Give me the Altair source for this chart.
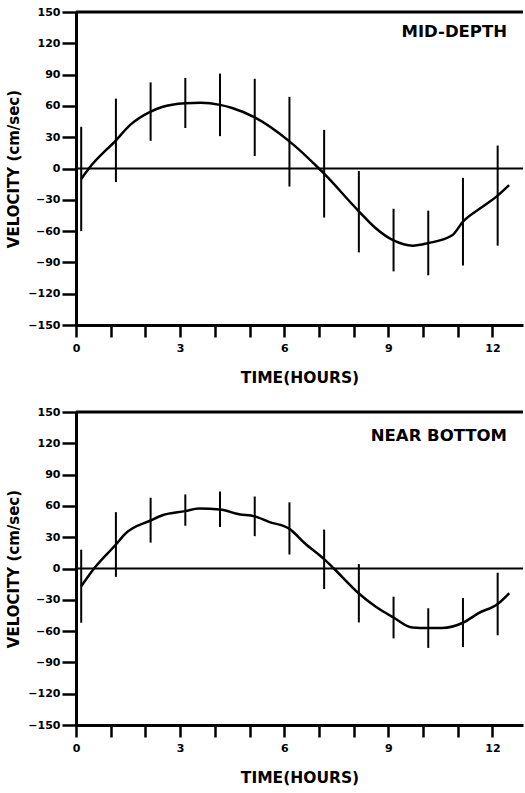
import altair as alt
import pandas as pd

# Observation times (hours) where velocity ranges were measured
obs_hours = [0.15, 1.15, 2.15, 3.15, 4.15, 5.15, 6.15, 7.15, 8.15, 9.15, 10.15, 11.15, 12.15]

# Mid-depth: mean velocity and half-range at each observation (cm/sec)
mid_mean = [-10, 27, 54.5, 62.8, 61, 49, 25.7, -5, -41.4, -68.6, -71.4, -51, -26]
mid_half = [50, 40, 28, 24, 30, 37, 43, 42, 39, 30, 31, 42, 48]

# Near bottom: mean velocity and half-range at each observation (cm/sec)
bot_mean = [-17, 23, 46.3, 56, 56.8, 50, 38.4, 8.8, -23.7, -47, -57.1, -51.8, -34]
bot_half = [35, 31, 21.5, 15, 17, 19, 25, 28.5, 28, 20, 19, 23.5, 30]

# Smoothed curve through the observations
mid_curve_t = [0.15, 0.37, 1.15, 1.57, 2.15, 2.48, 3.15, 3.6, 4.15, 4.5, 5.15, 6.15, 7.0, 7.15,
               8.15, 8.63, 9.15, 9.7, 10.15, 10.84, 11.15, 11.7, 12.15, 12.48]
mid_curve_v = [-10, 0, 27, 42, 54.5, 59, 62.5, 63, 61, 58, 49, 26, 0, -5,
               -41, -57, -69, -74, -71.5, -64, -51, -37, -26, -16]

bot_curve_t = [0.15, 0.52, 1.15, 1.43, 2.15, 2.49, 3.15, 3.54, 4.15, 4.7, 5.15, 5.56, 6.15, 6.6,
               7.15, 7.43, 8.15, 8.63, 9.15, 9.69, 10.15, 10.55, 11.15, 11.6, 12.15, 12.48]
bot_curve_v = [-17, 0, 23, 33.6, 46, 51, 55, 57.5, 56.5, 52, 50, 44.7, 38, 24,
               9, 0, -24, -36.5, -47, -56.5, -57, -57, -52, -42.8, -34, -23.7]

# Axis tick positions
x_ticks = list(range(0, 13))
y_ticks = list(range(-150, 151, 30))

FONT = "DejaVu Sans"
X_MAX = 12.88


def panel(label, mean, half, ct, cv, label_y):
    bars = pd.DataFrame({
        "t": obs_hours,
        "lo": [m - h for m, h in zip(mean, half)],
        "hi": [m + h for m, h in zip(mean, half)],
    })
    curve = pd.DataFrame({"t": ct, "v": cv})

    x_scale = alt.Scale(domain=[0, X_MAX], nice=False, zero=False)
    y_scale = alt.Scale(domain=[-150, 150], nice=False)

    x_axis = alt.Axis(
        title="TIME(HOURS)", values=x_ticks, tickCount=len(x_ticks),
        labelExpr="datum.value % 3 == 0 ? datum.value : ''",
        labelOverlap=False,
        tickSize=12, tickWidth=2.5, tickColor="black",
        domainWidth=3, domainColor="black", grid=False,
        labelFont=FONT, labelFontSize=11, labelFontWeight="bold", labelColor="black",
        labelPadding=5, labelFlush=False,
        titleFont=FONT, titleFontSize=15.5, titleFontWeight="bold", titleColor="black",
        titlePadding=17,
    )
    y_axis = alt.Axis(
        title="VELOCITY (cm/sec)", values=y_ticks, tickCount=len(y_ticks),
        labelOverlap=False,
        tickSize=14, tickWidth=2.5, tickColor="black",
        domainWidth=3, domainColor="black", grid=False,
        labelFont=FONT, labelFontSize=11, labelFontWeight="bold", labelColor="black",
        labelPadding=2,
        titleFont=FONT, titleFontSize=15, titleFontWeight="bold", titleColor="black",
        titlePadding=6,
    )

    # Curve layer first so its axis definitions drive the shared axes
    line = alt.Chart(curve).mark_line(color="black", strokeWidth=2.5, interpolate="monotone").encode(
        x=alt.X("t:Q", scale=x_scale, axis=x_axis),
        y=alt.Y("v:Q", scale=y_scale, axis=y_axis),
    )
    err = alt.Chart(bars).mark_rule(color="black", strokeWidth=2).encode(
        x="t:Q", y="lo:Q", y2="hi:Q"
    )
    frame = pd.DataFrame({"v": [0, 150], "w": [2, 3]})
    rules = alt.Chart(frame).mark_rule(color="black").encode(
        y="v:Q", strokeWidth=alt.StrokeWidth("w:Q", scale=None, legend=None)
    )
    txt = alt.Chart(pd.DataFrame({"t": [12.42], "v": [label_y], "s": [label]})).mark_text(
        align="right", baseline="middle", font=FONT, fontSize=16.5, fontWeight="bold",
        color="black"
    ).encode(x="t:Q", y="v:Q", text="s:N")

    return alt.layer(line, rules, err, txt).properties(width=447, height=313)


top = panel("MID-DEPTH", mid_mean, mid_half, mid_curve_t, mid_curve_v, 131)
bottom = panel("NEAR BOTTOM", bot_mean, bot_half, bot_curve_t, bot_curve_v, 127)

chart = alt.vconcat(top, bottom, spacing=20).properties(
    padding={"left": 6, "top": 6, "right": 0, "bottom": 0},
    background="white",
).configure_view(stroke=None).configure_axis(labelOverlap=False)

chart.save("out.html", embed_options={"renderer": "svg", "actions": False})
